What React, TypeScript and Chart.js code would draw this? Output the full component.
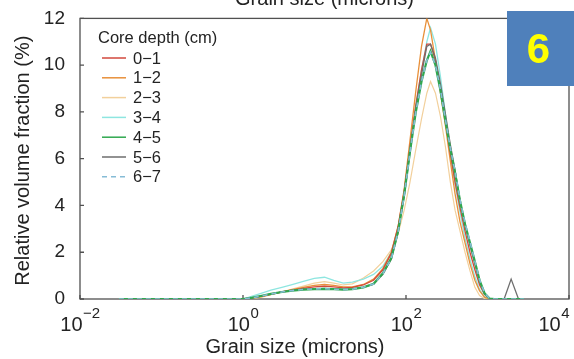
import { useEffect, useRef } from "react";
import { Chart, registerables } from "chart.js";

Chart.register(...registerables);

// Grain size bins (microns)
const GRAIN_SIZE_UM = [
  0.03, 0.1, 0.3, 0.6, 1, 1.3, 1.7, 2.2, 3, 4, 5.5, 7.5, 10, 13, 17, 22, 30,
  40, 52, 66, 80, 95, 112, 132, 155, 180, 200, 230, 265, 305, 350, 400, 460,
  530, 610, 700, 800, 920, 1060, 1220, 1400, 1600, 1950, 2400, 2800,
];

const DEPTH_LABELS = ["0−1", "1−2", "2−3", "3−4", "4−5", "5−6", "6−7"];

const DEPTH_0_1 = [
  0, 0, 0, 0, 0, 0.05, 0.12, 0.2, 0.3, 0.38, 0.45, 0.52, 0.55, 0.52, 0.48, 0.5, 0.6,
  0.8, 1.25, 1.95, 3.1, 4.6, 6.5, 8.3, 9.8, 10.9, 10.9, 10.2, 9.0, 7.6, 6.2, 5.0, 3.9,
  2.9, 2.0, 1.25, 0.6, 0.2, 0.02, 0, 0, 0, 0, 0, 0,
];
const DEPTH_1_2 = [
  0, 0, 0, 0, 0, 0.04, 0.1, 0.2, 0.3, 0.4, 0.5, 0.58, 0.62, 0.58, 0.52, 0.52, 0.62,
  0.85, 1.3, 2.0, 3.1, 4.7, 6.8, 8.9, 10.8, 12.0, 11.5, 10.2, 8.8, 7.4, 5.9, 4.5, 3.3,
  2.4, 1.5, 0.8, 0.35, 0.08, 0, 0, 0, 0, 0, 0, 0,
];
const DEPTH_2_3 = [
  0, 0, 0, 0, 0, 0.02, 0.08, 0.18, 0.3, 0.42, 0.55, 0.68, 0.74, 0.68, 0.6, 0.65, 0.9,
  1.2, 1.6, 2.1, 2.8, 3.8, 5.0, 6.4, 7.7, 8.8, 9.3, 8.8, 7.8, 6.5, 5.0, 3.8, 2.9,
  2.0, 1.2, 0.5, 0.15, 0.02, 0, 0, 0, 0, 0, 0, 0,
];
const DEPTH_3_4 = [
  0, 0, 0, 0, 0, 0.12, 0.25, 0.38, 0.5, 0.62, 0.75, 0.88, 0.93, 0.8, 0.68, 0.72, 0.85,
  1.05, 1.4, 2.0, 3.0, 4.4, 6.3, 8.2, 9.8, 11.0, 11.6, 10.9, 9.5, 7.9, 6.3, 4.9, 3.7,
  2.6, 1.7, 0.95, 0.4, 0.1, 0, 0, 0, 0, 0, 0, 0,
];
const DEPTH_4_5 = [
  0, 0, 0, 0, 0, 0.06, 0.14, 0.22, 0.3, 0.36, 0.4, 0.42, 0.43, 0.42, 0.4, 0.42, 0.5,
  0.65, 1.1, 1.75, 2.9, 4.45, 6.3, 8.0, 9.3, 10.2, 10.6, 10.0, 8.9, 7.6, 6.4, 5.4, 4.2,
  3.2, 2.4, 1.6, 0.8, 0.25, 0.02, 0, 0, 0, 0, 0, 0,
];
const DEPTH_5_6 = [
  0, 0, 0, 0, 0, 0.05, 0.13, 0.22, 0.3, 0.37, 0.42, 0.44, 0.45, 0.43, 0.41, 0.43, 0.5,
  0.63, 1.05, 1.7, 2.85, 4.4, 6.3, 8.2, 9.6, 10.8, 10.9, 10.3, 9.2, 7.9, 6.6, 5.5, 4.2,
  3.2, 2.3, 1.5, 0.75, 0.22, 0.02, 0, 0, 0, 0.85, 0, 0,
];
const DEPTH_6_7 = [
  0, 0, 0, 0, 0, 0.05, 0.13, 0.21, 0.3, 0.36, 0.41, 0.43, 0.44, 0.42, 0.4, 0.42, 0.5,
  0.64, 1.08, 1.72, 2.88, 4.42, 6.28, 8.0, 9.3, 10.2, 10.55, 10.0, 8.95, 7.65, 6.45, 5.45, 4.25,
  3.25, 2.45, 1.62, 0.82, 0.26, 0.02, 0, 0, 0, 0, 0, 0,
];

const SERIES = [DEPTH_0_1, DEPTH_1_2, DEPTH_2_3, DEPTH_3_4, DEPTH_4_5, DEPTH_5_6, DEPTH_6_7];
const COLORS = ["#d2493c", "#e8903a", "#f2d09c", "#8ee6e0", "#2fa84f", "#6e6e6e", "#86bcd6"];
const WIDTHS = [1.3, 1.3, 1.2, 1.3, 2.2, 1.3, 1.6];
const DASHES: number[][] = [[], [], [], [], [], [], [5, 4]];
const ORDERS = [3, 4, 6, 5, 1, 2, 0];

const X_TICKS = [0.01, 1, 100, 10000];
const X_TICK_EXPONENTS = ["−2", "0", "2", "4"];
const Y_MIN = 0;
const Y_MAX = 12;
const Y_STEP = 2;

const X_TITLE = "Grain size (microns)";
const TOP_TITLE = "Grain size (microns)";
const Y_TITLE = "Relative volume fraction (%)";
const LEGEND_TITLE = "Core depth (cm)";
const BADGE_TEXT = "6";

const FONT = "'Liberation Sans', Arial, Helvetica, sans-serif";
const TEXT = "#232323";

const decorPlugin = {
  id: "decor",
  beforeDatasetsDraw(chart: any) {
    const { ctx, chartArea: a } = chart;
    const xs = chart.scales.x;
    const ys = chart.scales.y;
    ctx.save();
    ctx.strokeStyle = "#505050";
    ctx.lineWidth = 1.3;
    ctx.strokeRect(a.left, a.top, a.right - a.left, a.bottom - a.top);
    ctx.beginPath();
    for (const t of ys.ticks) {
      const y = ys.getPixelForValue(t.value);
      ctx.moveTo(a.left, y);
      ctx.lineTo(a.left + 4, y);
    }
    for (const v of X_TICKS) {
      const x = xs.getPixelForValue(v);
      ctx.moveTo(x, a.bottom);
      ctx.lineTo(x, a.bottom - 4);
    }
    ctx.stroke();
    ctx.restore();
  },
  afterDraw(chart: any) {
    const { ctx, chartArea: a } = chart;
    const xs = chart.scales.x;
    ctx.save();
    ctx.fillStyle = TEXT;

    // x tick labels 10^n
    X_TICKS.forEach((v, i) => {
      const px = xs.getPixelForValue(v);
      ctx.font = `20px ${FONT}`;
      const wb = ctx.measureText("10").width;
      ctx.font = `15px ${FONT}`;
      const we = ctx.measureText(X_TICK_EXPONENTS[i]).width;
      let start = px - (wb + we) / 2;
      if (start + wb + we > 569) start = 569 - wb - we;
      ctx.textBaseline = "alphabetic";
      ctx.textAlign = "left";
      ctx.font = `20px ${FONT}`;
      ctx.fillText("10", start, 331);
      ctx.font = `15px ${FONT}`;
      ctx.fillText(X_TICK_EXPONENTS[i], start + wb + 0.5, 318);
    });

    // axis titles
    ctx.font = `20px ${FONT}`;
    ctx.textAlign = "center";
    ctx.textBaseline = "alphabetic";
    ctx.fillText(X_TITLE, 295, 353);
    ctx.fillText(TOP_TITLE, (a.left + a.right) / 2, 5);

    ctx.save();
    ctx.translate(23, (a.top + a.bottom) / 2 + 2);
    ctx.rotate(-Math.PI / 2);
    ctx.textBaseline = "middle";
    ctx.fillText(Y_TITLE, 0, 0);
    ctx.restore();

    // legend
    ctx.textAlign = "left";
    ctx.textBaseline = "middle";
    ctx.font = `16.5px ${FONT}`;
    ctx.fillText(LEGEND_TITLE, 98, 38);
    chart.data.datasets.forEach((ds: any, i: number) => {
      const y = 58 + i * 19.8;
      ctx.save();
      ctx.strokeStyle = ds.borderColor;
      ctx.lineWidth = 1.5;
      ctx.setLineDash(ds.borderDash || []);
      ctx.beginPath();
      ctx.moveTo(102, y);
      ctx.lineTo(126, y);
      ctx.stroke();
      ctx.restore();
      ctx.fillStyle = TEXT;
      ctx.fillText(ds.label, 133, y + 1);
    });

    // badge
    ctx.fillStyle = "#4f80bb";
    ctx.fillRect(507, 11, 70, 75);
    ctx.fillStyle = "#ffff00";
    ctx.font = `bold 42px ${FONT}`;
    ctx.textAlign = "center";
    ctx.textBaseline = "alphabetic";
    ctx.fillText(BADGE_TEXT, 538.5, 63);
    ctx.restore();
  },
};

export default function App() {
  const ref = useRef<HTMLCanvasElement>(null);

  useEffect(() => {
    const canvas = ref.current;
    if (!canvas) return;
    const chart = new Chart(canvas, {
      type: "line",
      data: {
        datasets: SERIES.map((s, i) => ({
          label: DEPTH_LABELS[i],
          data: GRAIN_SIZE_UM.map((x, j) => ({ x, y: s[j] })),
          borderColor: COLORS[i],
          backgroundColor: COLORS[i],
          borderWidth: WIDTHS[i],
          borderDash: DASHES[i],
          pointRadius: 0,
          tension: 0,
          fill: false,
          order: ORDERS[i],
        })),
      },
      options: {
        responsive: false,
        animation: false,
        devicePixelRatio: 1,
        layout: { padding: { left: 0, right: 5, top: 15, bottom: 0 } },
        plugins: {
          legend: { display: false },
          tooltip: { enabled: false },
          title: { display: false },
        },
        scales: {
          x: {
            type: "logarithmic",
            min: 0.01,
            max: 10000,
            grid: { display: false },
            border: { display: false },
            ticks: { display: false },
            afterBuildTicks: (s: any) => {
              s.ticks = X_TICKS.map((value) => ({ value }));
            },
            afterFit: (s: any) => {
              s.height = 60;
            },
          },
          y: {
            type: "linear",
            min: Y_MIN,
            max: Y_MAX,
            grid: { display: false },
            border: { display: false },
            ticks: {
              stepSize: Y_STEP,
              padding: 7,
              color: TEXT,
              font: { family: FONT, size: 19 },
            },
            afterFit: (s: any) => {
              s.width = 80;
            },
          },
        },
      } as any,
      plugins: [decorPlugin],
    });
    return () => chart.destroy();
  }, []);

  return (
    <div style={{ position: "absolute", left: 0, top: 0, width: 574, height: 359, background: "#fff" }}>
      <canvas ref={ref} width={574} height={359} style={{ display: "block", width: 574, height: 359 }} />
    </div>
  );
}
